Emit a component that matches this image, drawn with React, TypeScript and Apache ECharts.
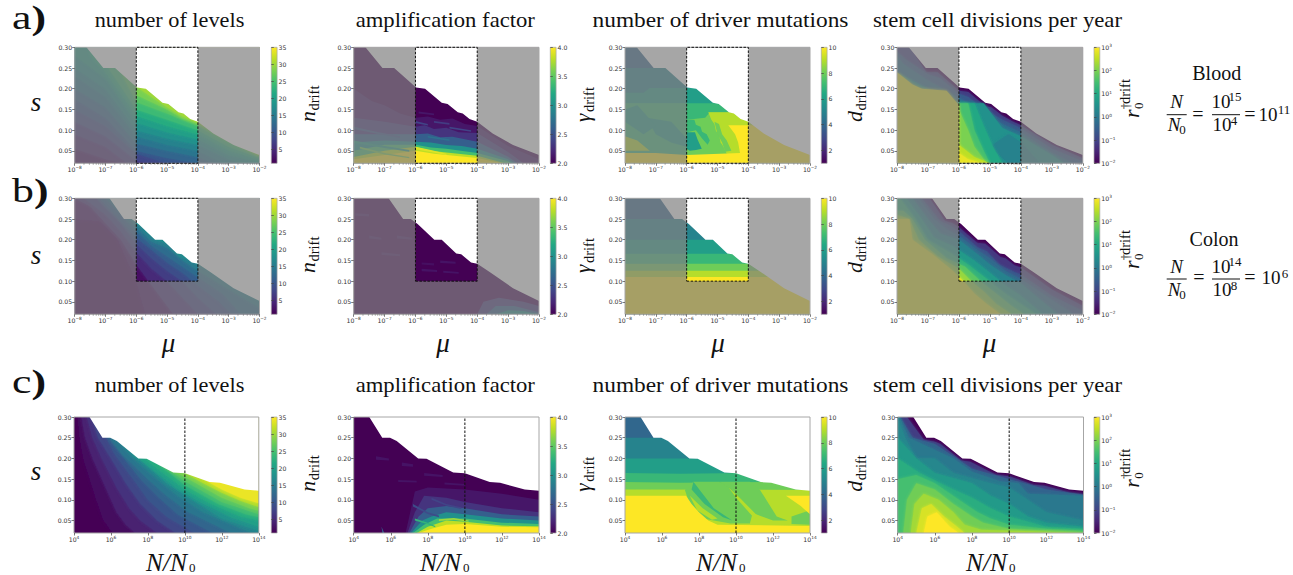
import React, { useEffect, useRef } from "react";
import * as echarts from "echarts";

type Pt = number[];
type Band = [number, "up" | "down" | "closed", Pt[]];

const titles = ["number of levels", "amplification factor", "number of driver mutations", "stem cell divisions per year"];
const titleCenters = [169.5, 445.3, 720.5, 997.5];
const titleStretch = [1.114, 1.133, 1.167, 1.139];
const yTicks = [0.05, 0.1, 0.15, 0.2, 0.25, 0.3];
const levelTicks = [5, 10, 15, 20, 25, 30, 35];
const gammaTicks = [2, 2.5, 3, 3.5, 4];
const driverTicks = [2, 4, 6, 8, 10];
const minorMultiples = [2, 3, 4, 5, 6, 7, 8, 9];
const VIRIDIS = ["#440154", "#482475", "#414487", "#355f8d", "#2a788e", "#21918c", "#22a884", "#44bf70", "#7ad151", "#bddf26", "#fde725"];

const frontierA: Pt[] = [[-7.62, 0.3], [-7.07, 0.25], [-6.69, 0.25], [-5.98, 0.203], [-5.69, 0.2], [-5.15, 0.166], [-4.96, 0.163], [-4.63, 0.143], [-4.47, 0.14], [-4.25, 0.127], [-4, 0.12], [-3.5, 0.092], [-2.84, 0.064], [-2, 0.04]];
const frontierB: Pt[] = [[-6.87, 0.3], [-6.4, 0.25], [-6.15, 0.25], [-5.93, 0.238], [-5.39, 0.2], [-5.15, 0.2], [-4.68, 0.167], [-4.52, 0.165], [-4.2, 0.145], [-4, 0.142], [-3.61, 0.123], [-2.84, 0.083], [-2, 0.052]];
const frontierC: Pt[] = [[4.84, 0.3], [5.54, 0.25], [5.96, 0.25], [6.32, 0.242], [7.48, 0.2], [7.93, 0.199], [9.37, 0.166], [10, 0.164], [11.34, 0.143], [11.9, 0.141], [13.23, 0.125], [14, 0.122]];

const a1Bands: Band[] = [
  [2, "down", [[-8, 0.31], [-2, 0.31]]],
  [4, "up", [[-8, 0.055], [-7, 0.03], [-6.5, 0.02]]],
  [6, "up", [[-8, 0.09], [-7, 0.06], [-6.3, 0.02]]],
  [8, "up", [[-8, 0.12], [-7, 0.085], [-6, 0.027], [-5.6, 0.02]]],
  [10, "up", [[-8, 0.15], [-7, 0.11], [-6, 0.043], [-5, 0.02]]],
  [12, "up", [[-8, 0.175], [-7, 0.13], [-6, 0.05], [-5, 0.033], [-4, 0.02]]],
  [14, "up", [[-8, 0.2], [-7, 0.155], [-6, 0.068], [-5, 0.05], [-4, 0.035], [-3.5, 0.02]]],
  [16, "up", [[-8, 0.23], [-7, 0.18], [-6, 0.085], [-5, 0.065], [-4, 0.05], [-3.2, 0.02]]],
  [18, "up", [[-8, 0.25], [-7, 0.2], [-6, 0.1], [-5, 0.08], [-4, 0.065], [-3, 0.03], [-2.6, 0.02]]],
  [20, "up", [[-8, 0.28], [-7, 0.225], [-6, 0.118], [-5, 0.095], [-4, 0.078], [-3, 0.04], [-2, 0.022]]],
  [22, "up", [[-7.5, 0.28], [-7, 0.24], [-6, 0.135], [-5, 0.11], [-4, 0.09], [-3, 0.05], [-2, 0.028]]],
  [24, "up", [[-7, 0.26], [-6, 0.15], [-5, 0.125], [-4, 0.1], [-3, 0.06], [-2, 0.033]]],
  [26, "up", [[-6.5, 0.24], [-6, 0.168], [-5, 0.14], [-4, 0.11], [-3, 0.07], [-2, 0.036]]],
  [28, "up", [[-6, 0.185], [-5, 0.15], [-4.5, 0.128], [-4, 0.115], [-3, 0.075], [-2, 0.038]]],
  [30, "up", [[-6, 0.205], [-5.5, 0.18], [-5, 0.155], [-4.5, 0.133], [-4, 0.118], [-3, 0.08], [-2, 0.04]]],
  [33, "up", [[-5.95, 0.21], [-5.5, 0.195], [-5, 0.17], [-4.5, 0.145], [-4, 0.123], [-3, 0.085], [-2, 0.042]]],
];
const a2Bands: Band[] = [
  [2, "down", [[-8, 0.31], [-2, 0.31]]],
  [2.12, "down", [[-8, 0.2], [-7.4, 0.17], [-7, 0.16], [-6.5, 0.14], [-6, 0.13], [-5.6, 0.133], [-5.2, 0.125], [-4.8, 0.128], [-4.4, 0.115], [-4, 0.11], [-3, 0.062], [-2, 0.03]]],
  [2.3, "down", [[-8, 0.13], [-7, 0.12], [-6, 0.108], [-5.7, 0.112], [-5.4, 0.103], [-5, 0.106], [-4.6, 0.095], [-4, 0.093], [-3, 0.047], [-2.5, 0.02]]],
  [2.6, "down", [[-8, 0.09], [-7, 0.09], [-6, 0.09], [-5.6, 0.092], [-5.2, 0.083], [-4.8, 0.084], [-4, 0.072], [-3, 0.036], [-2.7, 0.02]]],
  [3, "down", [[-8, 0.07], [-7, 0.075], [-6, 0.072], [-5.5, 0.07], [-5, 0.064], [-4.5, 0.062], [-4, 0.055], [-3, 0.03], [-2.8, 0.02]]],
  [3.4, "down", [[-8, 0.05], [-7, 0.065], [-6, 0.065], [-5.5, 0.058], [-5, 0.055], [-4, 0.045], [-3, 0.025], [-2.9, 0.02]]],
  [3.8, "down", [[-8, 0.035], [-7, 0.05], [-6, 0.06], [-5.5, 0.05], [-5, 0.046], [-4, 0.038], [-3.1, 0.02]]],
  [4, "down", [[-8, 0.03], [-7, 0.04], [-6, 0.05], [-5.4, 0.043], [-5, 0.04], [-4, 0.033], [-3.2, 0.02]]],
  [3.9, "closed", [[-6, 0.06], [-5.5, 0.052], [-5, 0.043], [-5, 0.04], [-5.5, 0.047], [-6, 0.054]]],
  [3.1, "closed", [[-8, 0.075], [-7, 0.062], [-6.2, 0.052], [-6.2, 0.048], [-7, 0.057], [-8, 0.069]]],
  [3.6, "closed", [[-7.8, 0.06], [-7, 0.045], [-6.2, 0.035], [-6.2, 0.032], [-7, 0.041], [-7.8, 0.056]]],
  [2.5, "closed", [[-8, 0.108], [-7.2, 0.095], [-6.5, 0.085], [-6.5, 0.081], [-7.2, 0.091], [-8, 0.103]]],
  [2.4, "closed", [[-6, 0.122], [-5.6, 0.115], [-5.6, 0.111], [-6, 0.117]]],
  [2.35, "closed", [[-5.4, 0.122], [-4.9, 0.117], [-4.9, 0.113], [-5.4, 0.118]]],
  [2.12, "closed", [[-5.9, 0.145], [-5.4, 0.14], [-5.4, 0.136], [-5.9, 0.14]]],
  [2.4, "closed", [[-4.9, 0.108], [-4.2, 0.1], [-4.2, 0.096], [-4.9, 0.104]]],
  [2.75, "closed", [[-5.6, 0.086], [-4.9, 0.078], [-4.9, 0.074], [-5.6, 0.082]]],
];
const a3Bands: Band[] = [
  [4, "down", [[-8, 0.31], [-2, 0.31]]],
  [5, "down", [[-8, 0.25], [-2, 0.25]]],
  [6, "down", [[-8, 0.19], [-7.4, 0.19], [-7.2, 0.202], [-2, 0.202]]],
  [7, "down", [[-8, 0.165], [-2, 0.165]]],
  [8, "down", [[-8, 0.125], [-6, 0.125], [-5.4, 0.13], [-5.25, 0.143], [-2, 0.143]]],
  [7, "closed", [[-6, 0.125], [-5.75, 0.125], [-5.7, 0.113], [-5.55, 0.108], [-5.5, 0.096], [-5.35, 0.09], [-5.25, 0.075], [-5.32, 0.065], [-5.5, 0.08], [-5.7, 0.1], [-6, 0.095]]],
  [9, "closed", [[-5.3, 0.143], [-4.49, 0.143], [-4.05, 0.123], [-2, 0.123], [-2, 0.02], [-4.7, 0.043], [-4.82, 0.062], [-4.9, 0.07], [-4.95, 0.09], [-5.05, 0.098], [-5.1, 0.115], [-5.2, 0.125]]],
  [8, "closed", [[-5.1, 0.12], [-4.95, 0.115], [-4.85, 0.09], [-4.7, 0.075], [-4.55, 0.05], [-4.75, 0.048], [-4.85, 0.07], [-5, 0.09]]],
  [7, "closed", [[-8, 0.165], [-6, 0.165], [-6, 0.04], [-8, 0.045]]],
  [6, "closed", [[-7.3, 0.13], [-6.5, 0.12], [-6, 0.08], [-6, 0.06], [-6.5, 0.07], [-7, 0.09]]],
  [6, "closed", [[-8, 0.15], [-7.6, 0.16], [-7, 0.11], [-7.4, 0.09], [-8, 0.12]]],
  [6, "closed", [[-6, 0.095], [-5.73, 0.095], [-5.65, 0.078], [-5.51, 0.055], [-5.7, 0.052], [-5.9, 0.05], [-6, 0.055]]],
  [9, "closed", [[-8, 0.085], [-7.6, 0.075], [-7.2, 0.05], [-8, 0.05]]],
  [10, "closed", [[-4.65, 0.112], [-4.05, 0.112], [-2, 0.112], [-2, 0.02], [-8, 0.02], [-8, 0.045], [-7, 0.045], [-6, 0.04], [-4.27, 0.045], [-4.33, 0.07], [-4.43, 0.09]]],
];
const a4Bands: Band[] = [
  [-2, "down", [[-8, 0.31], [-2, 0.31]]],
  [-1.1, "down", [[-8, 0.3], [-7.6, 0.3], [-7.05, 0.24], [-6.69, 0.24], [-6, 0.195], [-5.7, 0.192], [-5.15, 0.158], [-4.96, 0.155], [-4.6, 0.135], [-4.25, 0.12], [-4, 0.112], [-3, 0.065], [-2, 0.032]]],
  [-0.6, "down", [[-8, 0.29], [-7.7, 0.27], [-7, 0.235], [-6.6, 0.225], [-6, 0.188], [-5.7, 0.18], [-5.2, 0.152], [-4.6, 0.125], [-4, 0.105], [-3, 0.055], [-2, 0.025]]],
  [-0.2, "down", [[-8, 0.28], [-7.8, 0.26], [-7, 0.22], [-6.5, 0.2], [-6, 0.178], [-5.3, 0.143], [-4.6, 0.115], [-4, 0.095], [-3, 0.045], [-2.3, 0.02]]],
  [0.5, "down", [[-8, 0.24], [-7, 0.2], [-6, 0.165], [-5.2, 0.165], [-4.6, 0.105], [-4, 0.085], [-3, 0.04], [-2.6, 0.02]]],
  [0.2, "closed", [[-5, 0.06], [-4.4, 0.09], [-4, 0.07], [-3.4, 0.02], [-4.4, 0.02]]],
  [1, "down", [[-6, 0.165], [-5.5, 0.165], [-5.2, 0.11], [-4.9, 0.06], [-4.6, 0.02]]],
  [1.5, "down", [[-6, 0.165], [-5.7, 0.165], [-5.5, 0.1], [-5.2, 0.05], [-5, 0.02]]],
  [2, "down", [[-6, 0.15], [-5.7, 0.1], [-5.5, 0.06], [-5.1, 0.02]]],
  [2.5, "down", [[-6, 0.065], [-5.5, 0.035], [-5, 0.02]]],
  [2.85, "closed", [[-8, 0.24], [-7.5, 0.21], [-7.2, 0.2], [-6.4, 0.195], [-6, 0.16], [-6, 0.045], [-5.7, 0.03], [-5.2, 0.02], [-8, 0.02]]],
];
const b1Bands: Band[] = [
  [1.3, "down", [[-8, 0.31], [-2, 0.31]]],
  [2.5, "up", [[-8, 0.25], [-7.2, 0.245], [-6.6, 0.2], [-6, 0.1], [-5.7, 0.02]]],
  [5, "up", [[-8, 0.3], [-7.5, 0.28], [-7, 0.24], [-6.5, 0.2], [-6, 0.14], [-5.6, 0.1], [-5.2, 0.06], [-4.8, 0.02]]],
  [7, "up", [[-7.7, 0.3], [-7, 0.26], [-6.5, 0.22], [-6, 0.17], [-5.5, 0.13], [-5, 0.1], [-4.5, 0.06], [-4, 0.02]]],
  [9, "up", [[-7.3, 0.3], [-6.5, 0.24], [-6, 0.19], [-5.5, 0.155], [-5, 0.125], [-4.5, 0.1], [-4, 0.06], [-3.4, 0.02]]],
  [11, "up", [[-7.2, 0.3], [-6, 0.205], [-5.5, 0.175], [-5, 0.145], [-4.5, 0.12], [-4, 0.09], [-3.3, 0.05], [-2.9, 0.02]]],
  [13, "up", [[-7, 0.3], [-6, 0.22], [-5.5, 0.185], [-5, 0.16], [-4.5, 0.135], [-4, 0.11], [-3.2, 0.07], [-2.6, 0.02]]],
  [15, "up", [[-7, 0.31], [-6, 0.23], [-5.5, 0.195], [-5, 0.18], [-4.5, 0.15], [-4, 0.125], [-3, 0.08], [-2, 0.035]]],
  [17, "up", [[-6.8, 0.31], [-6, 0.24], [-5.4, 0.2], [-5, 0.19], [-4.6, 0.16], [-4, 0.14], [-3, 0.095], [-2, 0.05]]],
];
const b2Bands: Band[] = [
  [2, "down", [[-8, 0.31], [-2, 0.31]]],
  [2.1, "closed", [[-7.95, 0.264], [-7.5, 0.262], [-7.5, 0.256], [-7.95, 0.258]]],
  [2.1, "closed", [[-7.5, 0.21], [-7.1, 0.205], [-7.1, 0.2], [-7.5, 0.203]]],
  [2.1, "closed", [[-7.1, 0.17], [-6.5, 0.165], [-6.5, 0.16], [-7.1, 0.163]]],
  [2.1, "closed", [[-6.6, 0.21], [-6.1, 0.205], [-6.1, 0.2], [-6.6, 0.203]]],
  [2.1, "closed", [[-5.8, 0.13], [-5.3, 0.127], [-5.3, 0.122], [-5.8, 0.124]]],
  [2.1, "closed", [[-5.2, 0.15], [-4.7, 0.147], [-4.7, 0.142], [-5.2, 0.144]]],
  [2.1, "closed", [[-5.1, 0.125], [-4.6, 0.122], [-4.6, 0.118], [-5.1, 0.12]]],
  [2.08, "closed", [[-5.8, 0.145], [-5.4, 0.143], [-5.4, 0.138], [-5.8, 0.14]]],
  [2.3, "closed", [[-4, 0.02], [-3.8, 0.05], [-3.3, 0.06], [-2.5, 0.05], [-2, 0.04], [-2, 0.02]]],
  [2.6, "closed", [[-3.7, 0.02], [-3.4, 0.04], [-2.8, 0.04], [-2, 0.025], [-2, 0.02]]],
  [3, "closed", [[-3.4, 0.02], [-3, 0.03], [-2.5, 0.028], [-2, 0.02]]],
];
const b3Bands: Band[] = [
  [4, "down", [[-8, 0.31], [-2, 0.31]]],
  [5, "down", [[-8, 0.25], [-2, 0.25]]],
  [6, "down", [[-8, 0.2], [-2, 0.2]]],
  [7, "down", [[-8, 0.166], [-2, 0.166]]],
  [8, "down", [[-8, 0.142], [-2, 0.142]]],
  [9, "down", [[-8, 0.125], [-2, 0.125]]],
  [10, "down", [[-8, 0.11], [-2, 0.11]]],
];
const b4Bands: Band[] = [
  [-2, "down", [[-8, 0.31], [-2, 0.31]]],
  [-1.2, "down", [[-6.95, 0.3], [-6.45, 0.245], [-6.2, 0.24], [-6, 0.23], [-5.4, 0.192], [-5.15, 0.19], [-4.65, 0.158], [-4.5, 0.155], [-4.2, 0.138], [-4, 0.133], [-3, 0.08], [-2, 0.04]]],
  [-0.7, "down", [[-7.2, 0.3], [-6.6, 0.245], [-6.3, 0.235], [-5.9, 0.215], [-5.4, 0.182], [-5.1, 0.172], [-4.7, 0.14], [-4.2, 0.122], [-4, 0.116], [-3, 0.065], [-2, 0.028]]],
  [-0.3, "down", [[-7.3, 0.3], [-6.8, 0.25], [-6.4, 0.225], [-5.9, 0.205], [-5.4, 0.175], [-5, 0.155], [-4.5, 0.125], [-4, 0.105], [-3, 0.055], [-2.3, 0.02]]],
  [0.2, "down", [[-7.5, 0.3], [-7, 0.25], [-6.6, 0.215], [-6, 0.2], [-5.4, 0.165], [-5, 0.14], [-4.5, 0.115], [-4, 0.095], [-3.2, 0.045], [-2.8, 0.02]]],
  [0.7, "down", [[-7.7, 0.3], [-7.2, 0.25], [-6.8, 0.205], [-6.2, 0.185], [-5.5, 0.15], [-5, 0.12], [-4.5, 0.09], [-4, 0.065], [-3.3, 0.02]]],
  [1.2, "down", [[-7.9, 0.3], [-7.4, 0.25], [-7, 0.2], [-6.3, 0.17], [-5.7, 0.14], [-5, 0.1], [-4.5, 0.07], [-4, 0.045], [-3.5, 0.02]]],
  [1.7, "down", [[-7.8, 0.27], [-7.5, 0.25], [-7.1, 0.2], [-6.4, 0.155], [-5.8, 0.135], [-5.3, 0.1], [-4.8, 0.07], [-4.3, 0.04], [-3.9, 0.02]]],
  [2.2, "down", [[-8, 0.26], [-7.6, 0.25], [-7.3, 0.2], [-6.7, 0.16], [-6, 0.13], [-5.6, 0.1], [-5.2, 0.075], [-4.8, 0.045], [-4.3, 0.02]]],
  [2.8, "down", [[-8, 0.25], [-7.6, 0.25], [-7.5, 0.2], [-6.85, 0.165], [-6.2, 0.125], [-5.85, 0.1], [-5.5, 0.07], [-5.1, 0.045], [-4.65, 0.02]]],
];
const c1Bands: Band[] = [
  [1, "down", [[4, 0.31], [14, 0.31]]],
  [2, "up", [[4.2, 0.3], [4.3, 0.25], [4.5, 0.2], [5.2, 0.1], [5.6, 0.05], [6.1, 0.02]]],
  [4, "up", [[4.4, 0.3], [4.6, 0.25], [5, 0.2], [5.7, 0.13], [6.3, 0.07], [6.8, 0.04], [7.3, 0.02]]],
  [6, "up", [[4.7, 0.3], [5, 0.25], [5.5, 0.2], [6.3, 0.13], [7, 0.08], [7.6, 0.05], [8.5, 0.02]]],
  [8, "up", [[4.8, 0.32], [5.3, 0.25], [6, 0.2], [6.8, 0.14], [7.6, 0.09], [8.5, 0.05], [9.5, 0.02]]],
  [10, "up", [[5.1, 0.31], [5.5, 0.27], [6.2, 0.21], [7.2, 0.15], [8, 0.1], [9, 0.06], [10.5, 0.02]]],
  [12, "up", [[5.3, 0.3], [6, 0.24], [7.6, 0.15], [8.6, 0.105], [9.6, 0.065], [11.5, 0.02]]],
  [14, "up", [[5.6, 0.27], [6.6, 0.21], [8, 0.15], [9, 0.11], [10.2, 0.07], [12.5, 0.02]]],
  [16, "up", [[6.2, 0.25], [7.2, 0.2], [8.5, 0.15], [9.6, 0.11], [11, 0.07], [13.6, 0.02]]],
  [18, "up", [[6.8, 0.23], [7.5, 0.2], [9, 0.14], [10.2, 0.105], [12, 0.055], [14, 0.025]]],
  [20, "up", [[7.2, 0.21], [9.5, 0.13], [10.8, 0.095], [12.5, 0.058], [14, 0.035]]],
  [22, "up", [[7.8, 0.2], [10, 0.125], [11.4, 0.09], [13, 0.06], [14, 0.05]]],
  [24, "up", [[8.5, 0.19], [10, 0.135], [11.8, 0.09], [13.3, 0.065], [14, 0.058]]],
  [26, "up", [[8.7, 0.185], [10, 0.145], [12, 0.095], [14, 0.065]]],
  [28, "up", [[9.2, 0.172], [10, 0.155], [12, 0.105], [13.5, 0.08], [14, 0.074]]],
  [31, "up", [[10, 0.165], [11, 0.14], [12, 0.117], [13, 0.098], [14, 0.083]]],
  [34, "up", [[10.3, 0.17], [11, 0.15], [12, 0.125], [13, 0.105], [14, 0.092]]],
];
const c2Bands: Band[] = [
  [2, "down", [[4, 0.31], [14, 0.31]]],
  [2.12, "closed", [[6.8, 0.02], [7, 0.06], [7.3, 0.12], [8, 0.13], [10, 0.125], [12, 0.115], [14, 0.1], [14, 0.02]]],
  [2.3, "closed", [[6.9, 0.02], [7.3, 0.07], [7.8, 0.11], [9, 0.105], [10, 0.095], [12, 0.08], [14, 0.07], [14, 0.02]]],
  [2.6, "closed", [[7, 0.02], [7.5, 0.06], [8, 0.08], [9, 0.085], [10, 0.08], [12, 0.065], [14, 0.06], [14, 0.02]]],
  [3, "closed", [[7.1, 0.02], [7.7, 0.05], [8.2, 0.06], [9, 0.07], [10, 0.065], [12, 0.055], [14, 0.05], [14, 0.02]]],
  [3.4, "closed", [[7.2, 0.02], [7.8, 0.04], [8.5, 0.055], [10, 0.055], [12, 0.045], [14, 0.042], [14, 0.02]]],
  [3.8, "closed", [[7.4, 0.02], [8, 0.035], [9, 0.05], [10, 0.047], [12, 0.038], [14, 0.036], [14, 0.02]]],
  [4, "closed", [[7.5, 0.02], [8.2, 0.03], [9, 0.04], [10, 0.042], [12, 0.035], [14, 0.034], [14, 0.02]]],
  [2.6, "closed", [[5.5, 0.035], [5.65, 0.02], [5.55, 0.02]]],
  [2.1, "closed", [[5.2, 0.205], [5.9, 0.2], [5.9, 0.195], [5.2, 0.197]]],
  [2.1, "closed", [[6.6, 0.19], [7.2, 0.186], [7.2, 0.18], [6.6, 0.182]]],
  [2.1, "closed", [[7.8, 0.165], [8.8, 0.16], [8.8, 0.155], [7.8, 0.158]]],
  [2.1, "closed", [[6.4, 0.148], [7.4, 0.146], [7.4, 0.142], [6.4, 0.143]]],
  [2.1, "closed", [[8.9, 0.142], [10, 0.138], [10, 0.134], [8.9, 0.137]]],
  [2.45, "closed", [[7.2, 0.09], [8, 0.07], [8.6, 0.062], [8.6, 0.058], [8, 0.066], [7.2, 0.084]]],
  [3.3, "closed", [[7.3, 0.055], [8, 0.045], [8.4, 0.037], [8.4, 0.034], [8, 0.041], [7.3, 0.05]]],
  [2.4, "closed", [[8.2, 0.105], [9, 0.09], [9.8, 0.082], [9.8, 0.078], [9, 0.086], [8.2, 0.1]]],
  [3.7, "closed", [[8.6, 0.053], [9.4, 0.056], [10.2, 0.05], [10.2, 0.047], [9.4, 0.052], [8.6, 0.049]]],
];
const c3Bands: Band[] = [
  [4, "down", [[4, 0.31], [14, 0.31]]],
  [5, "down", [[4, 0.25], [14, 0.25]]],
  [6, "down", [[4, 0.2], [14, 0.2]]],
  [7, "down", [[4, 0.165], [7, 0.163], [14, 0.167]]],
  [8, "down", [[4, 0.143], [7, 0.141], [14, 0.144]]],
  [9, "down", [[4, 0.125], [14, 0.124]]],
  [8, "closed", [[7.24, 0.124], [7.7, 0.144], [9.1, 0.144], [9.85, 0.124], [10.9, 0.068], [10.75, 0.043], [9.7, 0.043], [8.2, 0.055], [7.5, 0.088]]],
  [8, "closed", [[9.1, 0.144], [10.75, 0.144], [11.3, 0.124], [12.2, 0.06], [12.8, 0.05], [12, 0.05], [10.9, 0.068], [9.85, 0.124]]],
  [7, "closed", [[7.7, 0.144], [8.1, 0.12], [8.8, 0.08], [9.8, 0.05], [9.3, 0.058], [8.3, 0.09], [7.6, 0.125]]],
  [8, "closed", [[13, 0.06], [14, 0.075], [14, 0.04], [13, 0.042]]],
  [9, "closed", [[9.6, 0.13], [10.3, 0.1], [11.2, 0.06], [11, 0.055], [10.1, 0.1]]],
  [9, "closed", [[7.5, 0.11], [8.2, 0.08], [9, 0.055], [8.7, 0.052], [7.9, 0.075]]],
  [10, "closed", [[4, 0.11], [7.3, 0.11], [7.6, 0.09], [8, 0.07], [8.5, 0.05], [9, 0.04], [14, 0.037], [14, 0.02], [4, 0.02]]],
  [10, "closed", [[12.7, 0.11], [14, 0.11], [14, 0.065], [13.5, 0.085]]],
];
const c4Bands: Band[] = [
  [-2, "down", [[4, 0.31], [14, 0.31]]],
  [-1.1, "down", [[4.5, 0.3], [5.4, 0.245], [6, 0.24], [6.3, 0.235], [7.4, 0.195], [7.9, 0.192], [9.3, 0.16], [10, 0.157], [11.3, 0.136], [11.9, 0.134], [13.2, 0.118], [14, 0.113]]],
  [-0.4, "down", [[4, 0.31], [4.8, 0.25], [6, 0.235], [7.5, 0.19], [8, 0.175], [10, 0.15], [12, 0.125], [14, 0.112]]],
  [0, "down", [[4, 0.31], [4.6, 0.25], [7, 0.2], [8, 0.168], [9.5, 0.145], [10.5, 0.14], [11, 0.115], [14, 0.11]]],
  [0.3, "down", [[4, 0.3], [4.4, 0.25], [5, 0.2], [6, 0.2], [7, 0.165], [9, 0.14], [10, 0.13], [11, 0.1], [12, 0.07], [14, 0.05]]],
  [0.7, "down", [[4, 0.25], [5, 0.2], [6, 0.165], [8, 0.14], [9, 0.11], [10, 0.09], [11, 0.06], [12, 0.045], [14, 0.035]]],
  [1.1, "down", [[4, 0.2], [5.2, 0.165], [7, 0.125], [8, 0.105], [9, 0.08], [10, 0.06], [12, 0.035], [14, 0.03]]],
  [1.5, "down", [[4, 0.15], [5, 0.16], [6, 0.14], [7.3, 0.1], [8.3, 0.07], [9, 0.055], [10, 0.04], [12, 0.03], [14, 0.026]]],
  [1.9, "closed", [[4.3, 0.02], [4.5, 0.1], [5, 0.14], [6, 0.125], [7, 0.09], [8, 0.06], [8.6, 0.045], [10, 0.03], [14, 0.023], [14, 0.02]]],
  [2.3, "closed", [[4.7, 0.02], [4.9, 0.09], [5.4, 0.115], [6.2, 0.1], [7, 0.07], [7.6, 0.04], [8.5, 0.028], [14, 0.02]]],
  [2.7, "closed", [[5, 0.02], [5.3, 0.08], [5.8, 0.09], [6.5, 0.06], [7.2, 0.035], [7.6, 0.02]]],
  [3, "closed", [[5.4, 0.02], [5.6, 0.06], [6.1, 0.07], [6.8, 0.035], [7.3, 0.02]]],
];

const rowBands: Band[][][] = [
  [a1Bands, a2Bands, a3Bands, a4Bands],
  [b1Bands, b2Bands, b3Bands, b4Bands],
  [c1Bands, c2Bands, c3Bands, c4Bands],
];
const softPanels = [[true, false, false, true], [true, false, false, true], [true, false, false, true]];
const rowFrontiers = [frontierA, frontierB, frontierC];
const rowXDomains = [[-8, -2], [-8, -2], [4, 14]];
const rowXSteps = [1, 1, 2];
const rowWindowBottoms = [0.02, 0.1];
const muWindow = [-6, -4];
const bloodMark = 10;
const colourRanges = [[1, 35], [2, 4], [1, 10], [-2, 3]];
const colourTicks = [levelTicks, gammaTicks, driverTicks, null];

// layout (pixels)
const Y_MIN = 0.02, Y_MAX = 0.3;
const rowTops = [47.3, 198.3, 417];
const plotH = 116;
const plotLefts = [[74.7, 353.7, 625, 897], [74.7, 353.7, 625, 897], [74, 353.7, 625, 897.7]];
const plotW = [184.8, 185.3, 185, 185.8];
const barLefts = [271.3, 550.3, 821.3, 1094];
const barW = 5.8;

const sans = "DejaVu Sans";
const serif = "Liberation Serif";

function viridis(t: number) {
  const c = Math.max(0, Math.min(1, t)) * (VIRIDIS.length - 1);
  const i = Math.min(VIRIDIS.length - 2, Math.floor(c));
  const f = c - i;
  const p = (s: string, o: number) => parseInt(s.substr(o, 2), 16);
  const a = VIRIDIS[i], b = VIRIDIS[i + 1];
  const m = (o: number) => Math.round(p(a, o) + (p(b, o) - p(a, o)) * f);
  return `rgb(${m(1)},${m(3)},${m(5)})`;
}

function closeBand(side: string, pts: Pt[], dom: number[]): Pt[] {
  const first = pts[0], last = pts[pts.length - 1];
  if (side === "up") return [...pts, [dom[1], last[1]], [dom[1], 0.32], [first[0], 0.32]];
  if (side === "down") return [...pts, [dom[1], last[1]], [dom[1], Y_MIN], [dom[0], Y_MIN], [dom[0], first[1]]];
  return pts;
}

const expRich = { b: { fontFamily: sans, fontSize: 6.2, color: "#333" }, s: { fontFamily: sans, fontSize: 4.3, color: "#333", verticalAlign: "top", padding: [0, 0, 3, 0] } };
const expLabel = (v: number) => {
  const e = Math.round(Math.log10(v));
  return `{b|10}{s|${e < 0 ? "−" + -e : e}}`;
};

function text(str: string, x: number, base: number, size: number, o: any = {}) {
  return {
    type: "text", x, y: base - 0.33 * size, silent: true, scaleX: o.scaleX ?? 1, scaleY: o.scaleY ?? 1,
    style: {
      text: str, x: 0, y: 0, fontFamily: o.family ?? serif, fontSize: size, fontStyle: o.italic ? "italic" : "normal",
      fontWeight: o.bold ? "bold" : "normal", fill: "#111", textAlign: o.align ?? "center", textVerticalAlign: "middle",
      rich: o.rich,
    },
  };
}
function rotated(x: number, y: number, kids: any[]) {
  return { type: "group", x, y, rotation: Math.PI / 2, silent: true, children: kids };
}
function rule(x0: number, x1: number, y: number) {
  return { type: "line", silent: true, shape: { x1: x0, y1: y, x2: x1, y2: y }, style: { stroke: "#111", lineWidth: 1 } };
}

function buildOption() {
  const grid: any[] = [], xAxis: any[] = [], yAxis: any[] = [], series: any[] = [];
  rowTops.forEach((top, r) => {
    const dom = rowXDomains[r];
    plotLefts[r].forEach((left, c) => {
      const gi = grid.length;
      grid.push({ left, top, width: plotW[c], height: plotH });
      xAxis.push({
        type: "log", logBase: 10, gridIndex: gi, min: 10 ** dom[0], max: 10 ** dom[1], interval: rowXSteps[r], z: 5,
        axisLine: { show: false }, splitLine: { show: false },
        axisTick: { length: 2.5, lineStyle: { color: "#444", width: 0.7 } },
        axisLabel: { margin: 2.5, formatter: expLabel, rich: expRich, showMinLabel: true, showMaxLabel: true, hideOverlap: false },
      });
      yAxis.push({
        type: "value", gridIndex: gi, min: Y_MIN, max: Y_MAX, z: 5,
        axisLine: { show: false }, splitLine: { show: false },
        axisTick: { length: 2.5, lineStyle: { color: "#444", width: 0.7 }, customValues: yTicks },
        axisLabel: { margin: 2.5, fontFamily: sans, fontSize: 6.2, color: "#333", customValues: yTicks, formatter: (v: number) => v.toFixed(2) },
      });
      const toX = (p: Pt) => 10 ** p[0];
      const shapes: { pts: Pt[]; fill: string; soft?: boolean }[] = [];
      const range = colourRanges[c];
      rowBands[r][c].forEach(([v, side, pts]) => {
        shapes.push({ pts: closeBand(side, pts, dom), fill: viridis((v - range[0]) / (range[1] - range[0])), soft: softPanels[r][c] });
      });
      shapes.push({ pts: closeBand("up", rowFrontiers[r], dom), fill: "#ffffff" });
      const grey = "rgba(128,128,128,0.7)";
      if (r < 2) {
        const wb = rowWindowBottoms[r];
        shapes.push({
          pts: [[dom[0], Y_MIN], [dom[1], Y_MIN], [dom[1], Y_MAX], [muWindow[1], Y_MAX], [muWindow[1], wb], [muWindow[0], wb], [muWindow[0], Y_MAX], [dom[0], Y_MAX]],
          fill: grey,
        });
      }
      series.push({
        type: "custom", xAxisIndex: gi, yAxisIndex: gi, clip: true, silent: true, z: 2,
        data: shapes.map(() => [10 ** dom[0], Y_MIN]),
        renderItem: (p: any, api: any) => {
          const s = shapes[p.dataIndex];
          const style: any = { fill: s.fill };
          if (s.soft) { style.shadowBlur = 3; style.shadowColor = s.fill; }
          return { type: "polygon", silent: true, shape: { points: s.pts.map((q) => api.coord([toX(q), q[1]])) }, style };
        },
      });
      series.push({
        type: "custom", xAxisIndex: gi, yAxisIndex: gi, clip: false, silent: true, z: 3,
        data: [[10 ** dom[0], Y_MIN]],
        renderItem: (_p: any, api: any) => {
          const at = (x: number, y: number) => api.coord([10 ** x, y]);
          const kids: any[] = [];
          const corners = [at(dom[0], Y_MIN), at(dom[1], Y_MIN), at(dom[1], Y_MAX), at(dom[0], Y_MAX), at(dom[0], Y_MIN)];
          kids.push({ type: "polyline", silent: true, shape: { points: corners }, style: { fill: "none", stroke: "#a6a6a6", lineWidth: 1 } });
          if (r < 2) {
            const wb = rowWindowBottoms[r];
            const win = [at(muWindow[0], wb), at(muWindow[1], wb), at(muWindow[1], Y_MAX), at(muWindow[0], Y_MAX), at(muWindow[0], wb)];
            kids.push({ type: "polyline", silent: true, shape: { points: win }, style: { fill: "none", stroke: "#111", lineWidth: 1, lineDash: [2.5, 1.5] } });
            for (let d = dom[0]; d < dom[1]; d++) {
              minorMultiples.forEach((m) => {
                const a = api.coord([m * 10 ** d, Y_MIN]);
                kids.push({ type: "line", silent: true, shape: { x1: a[0], y1: a[1], x2: a[0], y2: a[1] + 1.5 }, style: { stroke: "#555", lineWidth: 0.5 } });
              });
            }
          } else {
            const a = at(bloodMark, Y_MIN), b = at(bloodMark, Y_MAX);
            kids.push({ type: "line", silent: true, shape: { x1: a[0], y1: a[1], x2: b[0], y2: b[1] }, style: { stroke: "#111", lineWidth: 1, lineDash: [2.5, 1.5] } });
          }
          return { type: "group", children: kids };
        },
      });
      // colour bar
      const bi = grid.length;
      const [lo, hi] = range;
      const isLog = c === 3;
      grid.push({ left: barLefts[c], top, width: barW, height: plotH });
      xAxis.push({ type: "value", gridIndex: bi, min: 0, max: 1, show: false });
      yAxis.push(isLog ? {
        type: "log", logBase: 10, gridIndex: bi, position: "right", min: 10 ** lo, max: 10 ** hi, interval: 1, z: 5,
        axisLine: { show: false }, splitLine: { show: false },
        axisTick: { length: 2.5, lineStyle: { color: "#444", width: 0.7 } },
        axisLabel: { margin: 1.5, formatter: expLabel, rich: expRich, showMinLabel: true, showMaxLabel: true },
      } : {
        type: "value", gridIndex: bi, position: "right", min: lo, max: hi, z: 5,
        axisLine: { show: false }, splitLine: { show: false },
        axisTick: { length: 2.5, lineStyle: { color: "#444", width: 0.7 }, customValues: colourTicks[c] },
        axisLabel: { margin: 1.5, fontFamily: sans, fontSize: 6.2, color: "#333", customValues: colourTicks[c], formatter: (v: number) => (c === 1 ? v.toFixed(1) : String(v)) },
      });
      const bLo = isLog ? 10 ** lo : lo, bHi = isLog ? 10 ** hi : hi;
      series.push({
        type: "custom", xAxisIndex: bi, yAxisIndex: bi, clip: false, silent: true, z: 2,
        data: [[0, bLo]],
        renderItem: (_p: any, api: any) => {
          const a = api.coord([0, bHi]), b = api.coord([1, bLo]);
          return {
            type: "rect", silent: true, shape: { x: a[0], y: a[1], width: b[0] - a[0], height: b[1] - a[1] },
            style: {
              stroke: "#a6a6a6", lineWidth: 0.7,
              fill: new echarts.graphic.LinearGradient(0, 1, 0, 0, VIRIDIS.map((color, i) => ({ offset: i / (VIRIDIS.length - 1), color }))),
            },
          };
        },
      });
    });
  });

  const g: any[] = [];
  const titleBases = [27, 27, 391.7];
  [0, 2].forEach((r) => titles.forEach((t, i) => g.push(text(t, titleCenters[i], titleBases[r], 20, { scaleX: titleStretch[i] }))));
  const panelTags = [["a", 28], ["b", 201], ["c", 392]] as [string, number][];
  panelTags.forEach(([t, b]) => g.push(text(`${t}{p|)}`, 12, b, 32, { align: "left", scaleX: 1.37, scaleY: 1.05, rich: { p: { fontFamily: serif, fontSize: 32, fontWeight: "bold", fill: "#111" } } })));
  [105, 258, 474].forEach((b) => g.push(text("s", 36, b + 6, 27, { italic: true })));
  [168.5, 443, 718, 989.5].forEach((x) => g.push(text("μ", x, 352, 27, { italic: true })));
  [146, 420, 696, 966].forEach((x) => {
    g.push(text("N/N", x, 570, 25, { italic: true, align: "left", scaleX: 1.02 }));
    g.push(text("0", x + 43, 572, 13, { align: "left" }));
  });
  [197, 471, 741.7, 1014.3].forEach((x) => g.push(text("blood", x, 447, 16.7, { align: "left" })));

  rowTops.forEach((top) => {
    const d = top - 47.3;
    g.push(rotated(315, 122 + d, [text("n", 0, 0, 22, { italic: true, align: "left" }), text("drift", 11.5, 4, 14.5, { align: "left" })]));
    g.push(rotated(590, 122 + d, [text("γ", 0, 0, 21, { italic: true, align: "left" }), text("drift", 10, 4, 14.5, { align: "left" })]));
    g.push(rotated(862, 122 + d, [text("d", 0, 0, 22, { italic: true, align: "left" }), text("drift", 11.5, 4, 14.5, { align: "left" })]));
    g.push(rotated(1139, 118 + d, [
      text("r", 0, 0, 22, { italic: true, align: "left" }), text("0", 9, 4, 13, { align: "left" }),
      text("†", 9, -9, 12, { align: "left" }), text("drift", 14, -9, 14.5, { align: "left" }),
    ]));
  });

  g.push(text("Blood", 1216.7, 80, 20));
  g.push(text("N", 1176.7, 108, 19, { italic: true }), rule(1166.7, 1186.7, 114.7), text("N", 1174, 130.7, 19, { italic: true }), text("0", 1182.5, 133.5, 13));
  g.push(text("=", 1198, 120.5, 20), text("10", 1221, 107.5, 19), text("15", 1235, 101, 13), rule(1212, 1240, 114.7), text("10", 1222, 131, 19), text("4", 1234, 125, 13));
  g.push(text("=", 1250, 120.5, 20), text("10", 1268, 120.5, 19), text("11", 1284, 114, 13));

  g.push(text("Colon", 1214, 245.7, 20));
  g.push(text("N", 1176.7, 272.7, 19, { italic: true }), rule(1166.7, 1186.7, 279), text("N", 1174, 295.7, 19, { italic: true }), text("0", 1182.5, 298.5, 13));
  g.push(text("=", 1199, 284, 20), text("10", 1221, 272.7, 19), text("14", 1235, 266, 13), rule(1212, 1240, 279), text("10", 1222, 295.7, 19), text("8", 1234, 289.5, 13));
  g.push(text("=", 1250, 284, 20), text("10", 1271, 284, 19), text("6", 1285, 277.5, 13));

  return { animation: false, backgroundColor: "#fff", grid, xAxis, yAxis, series, graphic: { elements: g } };
}

export default function App() {
  const ref = useRef<HTMLDivElement>(null);
  useEffect(() => {
    const chart = echarts.init(ref.current!, undefined, { renderer: "svg" });
    chart.setOption(buildOption() as any);
    return () => chart.dispose();
  }, []);
  return <div ref={ref} style={{ position: "fixed", left: 0, top: 0, width: 1293, height: 575 }} />;
}
